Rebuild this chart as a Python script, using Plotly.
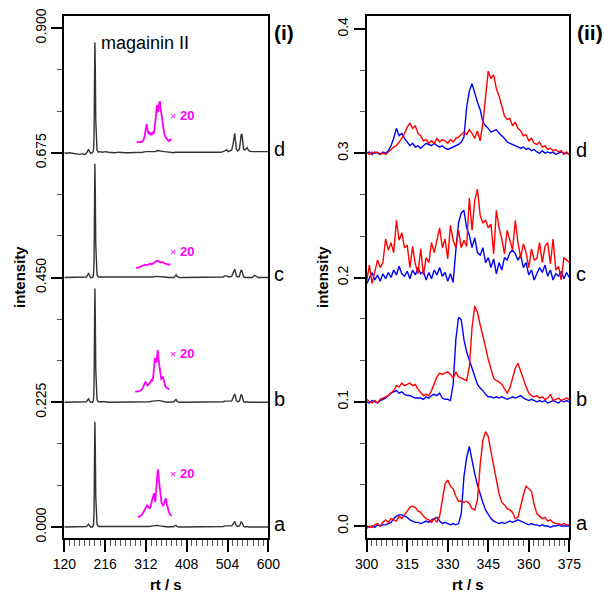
import plotly.graph_objects as go

W, H = 604, 592

# ---------------- Panel (i): full chromatograms ----------------
RT_BLACK = [120,126,132,138,144,150,156,162,168,172,175,177,179,182,186,188,189,190,191,192,193,194,195,197,200,204,210,216,224,232,
            240,248,256,264,272,280,288,296,304,312,320,328,334,340,344,348,356,364,372,378,381,383,385,390,400,410,420,430,440,450,
            460,470,480,488,494,498,502,506,510,514,517,519,521,523,525,528,532,534,536,538,540,542,545,548,550,553,556,562,568,572,
            576,584,592,600]
BLACK_D = [0.000,-0.001,0.000,-0.001,-0.002,-0.002,-0.003,-0.002,-0.003,-0.001,0.004,0.006,0.003,-0.001,0.000,0.003,0.008,0.030,0.120,0.199,
           0.150,0.060,0.020,0.005,0.001,0.002,0.001,0.002,0.001,0.000,
           0.000,0.001,0.000,0.000,0.000,0.000,0.001,0.001,0.001,0.002,0.002,0.002,0.002,0.004,0.004,0.003,0.002,0.001,0.001,0.000,
           0.001,0.001,0.000,0.000,0.000,0.000,0.000,0.000,0.000,0.000,
           0.000,0.000,0.001,0.001,0.002,0.004,0.005,0.002,0.003,0.005,0.015,0.030,0.035,0.020,0.006,0.003,0.006,0.018,0.032,0.033,
           0.018,0.006,0.005,0.008,0.009,0.005,0.003,0.002,0.002,0.002,
           0.002,0.002,0.002,0.002]
BLACK_C = [0.000,0.000,0.000,0.000,0.000,0.000,0.000,0.000,0.000,0.001,0.005,0.008,0.004,0.000,0.000,0.002,0.008,0.030,0.120,0.205,
           0.150,0.060,0.020,0.005,0.001,0.001,0.001,0.001,0.000,0.000,
           0.000,0.000,0.000,0.000,0.000,0.000,0.000,0.001,0.001,0.001,0.001,0.001,0.002,0.002,0.002,0.001,0.001,0.000,0.000,0.000,
           0.003,0.005,0.002,0.000,0.000,0.000,0.000,0.000,0.000,0.000,
           0.000,0.000,0.000,0.001,0.001,0.003,0.003,0.001,0.001,0.002,0.008,0.014,0.015,0.009,0.003,0.001,0.002,0.008,0.013,0.012,
           0.005,0.001,0.000,0.000,0.000,0.000,0.000,0.000,0.004,0.002,
           0.000,0.000,0.000,0.000]
BLACK_B = [0.000,0.000,0.001,0.000,0.000,0.000,0.000,0.000,0.000,0.001,0.004,0.006,0.003,0.000,0.000,0.002,0.008,0.030,0.120,0.205,
           0.150,0.060,0.020,0.005,0.001,0.001,0.002,0.001,0.000,0.000,
           0.000,0.000,0.000,0.000,0.000,0.000,0.000,0.001,0.001,0.001,0.001,0.002,0.003,0.003,0.003,0.002,0.001,0.000,0.000,0.001,
           0.004,0.005,0.002,0.000,0.000,0.000,0.000,0.000,0.000,0.000,
           0.000,0.000,0.000,0.001,0.001,0.002,0.002,0.001,0.001,0.002,0.008,0.014,0.015,0.009,0.003,0.001,0.002,0.008,0.014,0.012,
           0.005,0.001,0.000,0.001,0.001,0.000,0.000,0.000,0.000,0.000,
           0.000,0.000,0.000,0.000]
BLACK_A = [0.000,0.000,0.000,0.000,0.000,0.000,0.000,0.000,0.000,0.001,0.003,0.005,0.003,0.000,0.000,0.002,0.007,0.028,0.115,0.190,
           0.140,0.055,0.018,0.005,0.001,0.001,0.001,0.001,0.000,0.000,
           0.000,0.000,0.000,0.000,0.000,0.000,0.000,0.001,0.001,0.001,0.001,0.002,0.003,0.003,0.002,0.002,0.001,0.000,0.000,0.001,
           0.003,0.003,0.001,0.000,0.000,0.000,0.000,0.000,0.000,0.000,
           0.000,0.001,0.001,0.001,0.001,0.002,0.002,0.001,0.001,0.002,0.005,0.009,0.010,0.006,0.002,0.001,0.002,0.005,0.009,0.008,
           0.004,0.001,0.000,0.001,0.001,0.000,0.000,0.000,0.000,0.000,
           0.000,0.000,0.000,0.000]

OFFSETS_I = {"a": 0.0, "b": 0.225, "c": 0.45, "d": 0.675}

# x20 magnified insets (relative to each trace's baseline)
MAG_RT_D = [290,293,296,299,302,305,307,309,311,313,314,315,317,318,320,322,324,326,328,330,332,334,335,337,338,339,341,343,345,346,
            348,350,352,354,356,358,360,362,364,366,368,370,372]
MAG_D = [0.0185,0.019,0.0185,0.0195,0.019,0.021,0.024,0.030,0.037,0.048,0.052,0.045,0.040,0.034,0.036,0.033,0.035,0.033,0.036,0.034,
         0.040,0.050,0.062,0.080,0.086,0.075,0.073,0.088,0.093,0.084,0.070,0.060,0.050,0.040,0.032,0.028,0.026,0.024,0.022,0.021,
         0.023,0.024,0.022]
MAG_RT_C = [289,292,295,298,302,306,310,314,318,322,326,330,334,338,342,346,350,354,358,362,366,370]
MAG_C = [0.018,0.017,0.018,0.019,0.020,0.022,0.023,0.022,0.024,0.025,0.024,0.026,0.028,0.030,0.029,0.027,0.028,0.026,0.025,0.024,
         0.023,0.024]
MAG_RT_B = [287,292,297,301,305,308,311,313,316,319,322,325,327,329,331,333,335,337,339,340,342,344,346,348,350,352,354,356,358,361,
            364,367]
MAG_B = [0.019,0.019,0.020,0.022,0.026,0.032,0.037,0.034,0.030,0.032,0.036,0.040,0.038,0.045,0.060,0.080,0.074,0.072,0.088,0.094,
         0.075,0.062,0.048,0.042,0.043,0.046,0.040,0.032,0.028,0.026,0.024,0.023]
MAG_RT_A = [293,297,301,305,308,311,313,315,317,319,321,323,325,327,329,331,333,334,336,338,340,341,343,345,347,349,351,353,355,357,
            359,361,363,365,367,370,373]
MAG_A = [0.017,0.019,0.021,0.025,0.029,0.033,0.038,0.040,0.037,0.034,0.033,0.038,0.044,0.050,0.056,0.061,0.050,0.045,0.065,0.082,
         0.104,0.100,0.082,0.065,0.050,0.043,0.040,0.038,0.043,0.049,0.052,0.042,0.034,0.028,0.025,0.022,0.020]

# ---------------- Panel (ii): zoom 300-375 s ----------------
RT_II = list(range(300, 376))
RED_D = [1,-1,1,0,1,-1,0,-1,1,3,5,6,9,12,16,21,24,20,22,16,14,10,11,8,10,8,12,9,11,10,8,11,9,12,13,15,17,15,19,16,
         12,18,10,24,48,66,60,63,52,46,38,30,27,28,22,25,20,18,14,15,10,12,8,7,9,5,6,3,4,2,3,1,2,-1,1,-1]
BLUE_D = [0,1,-1,1,0,-1,1,0,2,6,12,20,14,16,12,9,6,8,5,6,4,6,8,7,6,8,6,5,6,4,3,4,5,6,7,9,13,37,50,56,
          48,41,35,25,22,20,17,18,19,16,14,12,9,8,7,6,5,4,5,3,4,2,3,1,0,2,0,1,0,1,-1,0,1,0,0,-1]
RED_C = [-3,10,-5,6,14,8,12,31,22,28,20,46,30,36,24,26,8,25,11,3,23,2,16,12,28,20,30,40,24,31,15,42,30,24,38,24,30,25,64,38,
         62,71,50,44,46,40,43,19,54,40,31,19,38,31,22,46,28,16,27,20,8,23,14,15,28,12,25,28,11,31,6,9,-2,16,14,12]
BLUE_C = [-5,0,4,-2,2,-3,3,-1,4,0,6,2,9,3,1,5,-1,6,2,8,3,5,-2,4,-1,6,2,8,1,4,-3,3,-4,22,44,52,54,40,34,24,
          32,20,18,24,12,16,8,15,3,12,6,16,14,20,22,19,14,18,8,12,2,6,-2,3,8,4,10,1,6,-2,3,1,5,-1,4,0]
RED_B = [2,0,-1,1,-1,2,3,4,5,7,9,13,12,15,13,14,15,13,14,10,7,5,6,5,9,14,20,23,22,23,24,22,19,24,20,19,18,17,28,60,
         77,72,62,54,44,34,26,19,17,16,14,10,7,11,18,27,31,24,19,12,7,5,4,5,3,4,2,3,6,1,2,3,1,2,3,2]
BLUE_B = [0,-1,1,0,-1,1,2,3,5,7,8,9,7,8,6,5,5,4,3,3,3,2,4,3,5,6,5,7,3,2,2,1,14,50,68,66,50,40,33,26,
          20,14,11,9,6,4,4,3,4,3,4,3,2,3,4,3,4,5,3,2,1,2,1,0,1,0,1,-1,0,1,0,-1,1,0,1,0]
RED_A = [-2,0,-1,1,2,0,3,5,3,6,5,4,8,6,9,12,15,16,15,12,11,8,6,5,3,6,3,8,20,34,37,32,30,24,20,20,19,20,18,14,
         13,21,49,69,76,72,60,48,36,26,19,17,14,13,11,6,7,17,25,32,30,28,17,10,8,6,7,4,5,3,2,2,1,2,1,1]
BLUE_A = [0,-1,0,-1,1,0,1,1,2,3,6,8,9,9,8,7,5,4,3,3,2,3,4,3,5,6,7,4,2,3,2,1,2,1,2,10,40,55,64,52,
          42,33,25,19,13,9,6,4,3,2,3,2,3,4,3,4,5,4,3,2,1,2,1,1,0,1,0,0,-1,0,0,1,0,0,0,0]
SCALE_II = 0.001  # values above are in units of 0.001
OFFSETS_II = {"a": 0.0, "b": 0.1, "c": 0.2, "d": 0.3}

fig = go.Figure()

black = {"a": BLACK_A, "b": BLACK_B, "c": BLACK_C, "d": BLACK_D}
for k in ["a", "b", "c", "d"]:
    assert len(black[k]) == len(RT_BLACK), (k, len(black[k]), len(RT_BLACK))
    fig.add_trace(go.Scatter(x=RT_BLACK, y=[v + OFFSETS_I[k] for v in black[k]], mode="lines",
                             line=dict(color="#333333", width=1.4), xaxis="x", yaxis="y", showlegend=False))

mags = {"a": (MAG_RT_A, MAG_A), "b": (MAG_RT_B, MAG_B), "c": (MAG_RT_C, MAG_C), "d": (MAG_RT_D, MAG_D)}
for k, (xs, ys) in mags.items():
    assert len(xs) == len(ys), (k, len(xs), len(ys))
    fig.add_trace(go.Scatter(x=xs, y=[v + OFFSETS_I[k] for v in ys], mode="lines",
                             line=dict(color="#ff00ff", width=1.8), xaxis="x", yaxis="y", showlegend=False))

pairs = {"a": (RED_A, BLUE_A), "b": (RED_B, BLUE_B), "c": (RED_C, BLUE_C), "d": (RED_D, BLUE_D)}
for k in ["d", "c", "b", "a"]:
    red, blue = pairs[k]
    assert len(red) == len(RT_II) and len(blue) == len(RT_II), (k, len(red), len(blue))
    fig.add_trace(go.Scatter(x=RT_II, y=[v * SCALE_II + OFFSETS_II[k] for v in blue], mode="lines",
                             line=dict(color="#0000ff", width=1.4), xaxis="x2", yaxis="y2", showlegend=False))
    fig.add_trace(go.Scatter(x=RT_II, y=[v * SCALE_II + OFFSETS_II[k] for v in red], mode="lines",
                             line=dict(color="#ff0000", width=1.4), xaxis="x2", yaxis="y2", showlegend=False))

FONT = "Liberation Sans, Arial, sans-serif"
common = dict(showline=True, linecolor="black", linewidth=2, mirror=True, ticks="outside",
              tickcolor="black", tickwidth=2, showgrid=False, zeroline=False, automargin=False,
              tickfont=dict(family=FONT, size=14, color="black"))

yd = [(592 - 538) / H, (592 - 16) / H]
fig.update_layout(
    width=W, height=H, margin=dict(l=0, r=0, t=0, b=0),
    plot_bgcolor="white", paper_bgcolor="white", showlegend=False,
    xaxis=dict(domain=[64.3 / W, 268.3 / W], range=[120, 600], tick0=120, dtick=96, ticklen=12,
               minor=dict(ticks="outside", dtick=12, tick0=120, ticklen=6, tickwidth=1, tickcolor="#555"),
               anchor="y", **common),
    yaxis=dict(domain=yd, range=[-0.0198, 0.9216], tickvals=[0, 0.225, 0.45, 0.675, 0.9],
               ticktext=["0.000", "0.225", "0.450", "0.675", "0.900"], tickangle=-90, ticklen=11,
               minor=dict(ticks="outside", tickvals=[0.075, 0.15, 0.3, 0.375, 0.525, 0.6, 0.75, 0.825],
                          ticklen=5, tickwidth=1, tickcolor="#555"),
               anchor="x", **common),
    xaxis2=dict(domain=[366.7 / W, 569.3 / W], range=[300, 375], tick0=300, dtick=15, ticklen=12,
                minor=dict(ticks="outside", dtick=1.875, tick0=300, ticklen=6, tickwidth=1, tickcolor="#555"),
                anchor="y2", **common),
    yaxis2=dict(domain=yd, range=[-0.0096, 0.4104], tickvals=[0, 0.1, 0.2, 0.3, 0.4],
                ticktext=["0.0", "0.1", "0.2", "0.3", "0.4"], tickangle=-90, ticklen=11,
                minor=dict(ticks="outside", tickvals=[0.0333, 0.0667, 0.1333, 0.1667, 0.2333, 0.2667, 0.3333, 0.3667],
                           ticklen=5, tickwidth=1, tickcolor="#555"),
                anchor="x2", **common),
)

ann = []
for k, off in OFFSETS_I.items():
    ann.append(dict(x=272 / W, xref="paper", y=off + 0.006, yref="y", text=k, showarrow=False,
                    xanchor="left", yanchor="middle", font=dict(family=FONT, size=20, color="black")))
for k, off in OFFSETS_II.items():
    ann.append(dict(x=574 / W, xref="paper", y=off + 0.0025, yref="y2", text=k, showarrow=False,
                    xanchor="left", yanchor="middle", font=dict(family=FONT, size=20, color="black")))
ann.append(dict(x=272 / W, xref="paper", y=1 - 33 / H, yref="paper", text="<b>(i)</b>", showarrow=False,
                xanchor="left", yanchor="middle", font=dict(family=FONT, size=21, color="black")))
ann.append(dict(x=575 / W, xref="paper", y=1 - 33 / H, yref="paper", text="<b>(ii)</b>", showarrow=False,
                xanchor="left", yanchor="middle", font=dict(family=FONT, size=21, color="black")))
ann.append(dict(x=202, xref="x", y=0.873, yref="y", text="magainin II", showarrow=False,
                xanchor="left", yanchor="middle", font=dict(family=FONT, size=18, color="black")))
X20_Y = {"a": 0.097, "b": 0.313, "c": 0.497, "d": 0.743}
for k, yv in X20_Y.items():
    ann.append(dict(x=364, xref="x", y=yv, yref="y",
                    text="<span style='font-size:11px'>×</span> <b>20</b>", showarrow=False,
                    xanchor="left", yanchor="middle", font=dict(family=FONT, size=13, color="#ff00ff")))
# axis titles
for cx in [166.3 / W, 468.0 / W]:
    ann.append(dict(x=cx, xref="paper", y=1 - 584 / H, yref="paper", text="<b>rt / s</b>", showarrow=False,
                    xanchor="center", yanchor="middle", font=dict(family=FONT, size=15, color="black")))
for cx in [19 / W, 322 / W]:
    ann.append(dict(x=cx, xref="paper", y=1 - 277 / H, yref="paper", text="<b>intensity</b>", showarrow=False,
                    textangle=-90, xanchor="center", yanchor="middle", font=dict(family=FONT, size=15, color="black")))
fig.update_layout(annotations=ann)

fig.write_html("out.html", config={"displayModeBar": False},
               post_script="document.body.style.margin='0px';document.body.style.overflow='hidden';")
